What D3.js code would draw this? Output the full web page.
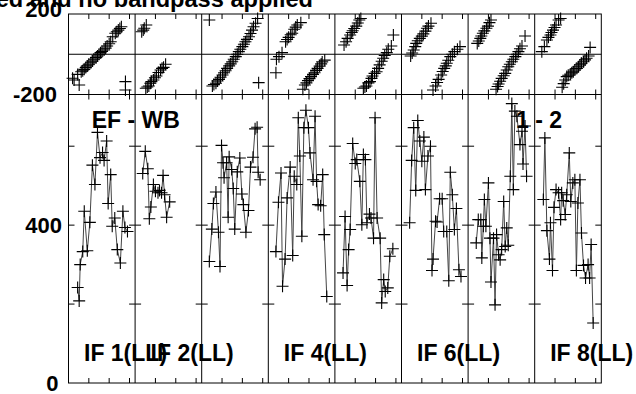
<!DOCTYPE html>
<html>
<head>
<meta charset="utf-8">
<script src="https://cdn.jsdelivr.net/npm/d3@7"></script>
<style>
  body { margin: 0; background: #fff; }
  svg { display: block; }
  text { font-family: "Liberation Sans", Arial, sans-serif; font-weight: bold; fill: #000; }
</style>
</head>
<body>
<svg class="chart" width="636" height="394"></svg>
<script>
/*
      Data
*/
const titleText = "Data calibrated and no bandpass applied";
const baselineText = ["EF - WB", "1 - 2"];
const ifLabels = ["IF 1(LL)", "IF 2(LL)", "", "IF 4(LL)", "", "IF 6(LL)", "", "IF 8(LL)"];
const ampTicks = [0, 200, 400, 600];
const ampLabels = [0, 400];
const phsLabels = [200, -200];
const chanTicks = [20, 40, 60];

// amplitude: channel / value per IF
const ampChan = [
  [9, 10.5, 11.5, 14, 15.5, 18.5, 21, 23.5, 26, 28.5, 31, 33.5, 35, 37.5, 39, 41.5, 43, 45.5, 48, 51, 53.5, 55.5, 58],
  [7.5, 10, 12.5, 14, 15.5, 18, 20, 22.5, 24, 26, 27.5, 29, 31, 34],
  [7.5, 10, 11.5, 14, 16.5, 18, 19.5, 21, 22, 24.5, 26, 27, 29.5, 31, 32.5, 35, 37.5, 39.5, 41, 43.5, 46, 48, 50.5, 52.5, 54.5, 55.5, 57.5],
  [7.5, 10, 12.5, 14, 16.5, 18.5, 21.5, 24, 25.5, 28, 29.5, 31, 33, 35, 37, 39.5, 41, 44, 46, 47.5, 49, 51.5, 53.5, 55, 57.5],
  [8, 10, 12, 13.5, 15, 17.5, 20, 21.5, 24.5, 26.5, 28, 30, 31.5, 34, 35.5, 38, 39.5, 41.5, 44.5, 46, 48, 49.5, 52, 54, 57],
  [8, 10, 12, 14, 16, 18, 20, 22, 23.5, 26, 28.5, 30, 31, 33.5, 35, 37.5, 40, 41.5, 44.5, 46.5, 48, 50, 52, 54, 56.5, 58.5],
  [8, 10, 12.5, 13.5, 15, 16, 17.5, 20, 21.5, 22.5, 25, 26.5, 28, 30, 31.5, 33, 35, 36.5, 38, 39.5, 41.5, 43, 44.5, 46, 48, 51, 53, 54, 56, 57.5],
  [8.5, 10, 12, 14.5, 15.5, 17.5, 19, 21, 23.5, 25.5, 26.5, 28, 30, 31.5, 34, 35.5, 37.5, 39.5, 41, 42.5, 44.5, 46, 48, 50, 52.5, 54, 55.5, 57.5]
];
const ampVal = [
  [242, 208, 300, 333, 435, 335, 407, 552, 503, 635, 571, 584, 564, 613, 455, 528, 397, 418, 338, 304, 435, 394, 384],
  [531, 587, 543, 416, 446, 503, 486, 482, 488, 482, 526, 477, 420, 459],
  [308, 390, 455, 484, 382, 295, 602, 558, 520, 558, 420, 573, 541, 493, 390, 535, 570, 479, 452, 382, 437, 547, 572, 644, 648, 534, 515],
  [333, 458, 532, 245, 314, 469, 547, 323, 524, 503, 672, 575, 372, 647, 691, 647, 583, 515, 676, 511, 452, 449, 528, 376, 219],
  [279, 422, 247, 338, 389, 607, 556, 566, 511, 401, 579, 566, 406, 428, 418, 367, 672, 418, 367, 203, 262, 232, 241, 321, 340],
  [406, 564, 647, 488, 665, 613, 562, 623, 490, 575, 600, 285, 314, 410, 408, 467, 467, 384, 384, 259, 534, 477, 389, 442, 287, 270],
  [355, 414, 414, 317, 397, 465, 397, 507, 367, 256, 367, 198, 376, 325, 312, 338, 460, 346, 393, 349, 524, 708, 490, 689, 676, 604, 638, 555, 651, 524],
  [465, 621, 386, 314, 406, 285, 445, 490, 482, 414, 482, 462, 427, 477, 583, 460, 507, 515, 285, 456, 515, 380, 298, 266, 300, 266, 351, 152]
];

// phase: channel / degrees per IF
const phsChan = [
  [4, 5.5, 9, 10.5, 12.5, 14, 15.5, 17, 18.5, 20, 22, 23.5, 25, 27, 28.5, 30, 31.5, 33, 35, 36.5, 38, 40, 41.5, 43.5, 46, 47.5, 49, 50.5, 52, 56, 56],
  [6.5, 8, 9, 11, 10.5, 12, 13.5, 15, 16, 18, 19.5, 21, 23, 25, 26.5, 28, 30],
  [7.5, 10.5, 12, 14, 15.5, 17, 18.5, 20.5, 22, 23.5, 25, 27, 28.5, 30, 31.5, 33.5, 35, 36.5, 38, 40, 41.5, 43, 44.5, 46.5, 48, 49.5, 51, 53, 55, 56],
  [7.5, 8, 10.5, 13.5, 17, 18.5, 20, 22, 23.5, 25.5, 27, 28.5, 32, 34, 36, 37.5, 39, 40.5, 42, 44, 45.5, 47, 48.5, 50.5, 52, 53, 55.5],
  [9, 11, 12.5, 15, 16.5, 17.5, 19, 21, 22.5, 24, 25.5, 28, 29.5, 31, 33, 34.5, 36, 37, 39, 41, 42.5, 44, 46, 47.5, 49, 51, 52.5, 55.5, 57.5],
  [9, 10.5, 12, 13.5, 14.5, 16, 18, 20, 21.5, 23.5, 25, 26.5, 29, 31, 33.5, 35, 36.5, 39, 40.5, 42, 43.5, 44.5, 46, 48, 50, 52, 55, 57.5],
  [9, 10.5, 12, 13, 14.5, 16, 18, 19.5, 21, 22.5, 27.5, 29, 30, 31.5, 33, 35, 36.5, 38, 39.5, 41, 43, 44.5, 46.5, 48, 49.5, 51, 53, 56],
  [7, 9.5, 12, 13.5, 15.5, 16.5, 18, 19.5, 21, 23.5, 25.5, 27, 28.5, 30, 31.5, 33, 35, 36.5, 38, 39.5, 41.5, 43, 44.5, 46, 48, 49.5, 51, 53, 54.5, 57]
];
const phsVal = [
  [-119, -128, -100, -153, -87, -82, -75, -66, -58, -50, -42, -34, -25, -17, -9, 0, 8, 14, 21, 30, 41, 52, 62, 87, 104, 112, 120, 128, 137, -136, -178],
  [112, 120, 129, 145, -169, -163, -158, -144, -136, -128, -117, -108, -91, -78, -70, -65, -50],
  [170, -158, -150, -144, -133, -125, -114, -103, -92, -82, -70, -58, -48, -37, -25, -12, 0, 13, 25, 38, 50, 62, 74, 87, 103, 120, 137, 154, 178, -141],
  [-92, -25, -12, 8, 62, 73, 84, 97, 104, 124, 135, 145, 157, -174, -153, -142, -131, -121, -111, -100, -92, -80, -70, -59, -48, -38, -29],
  [46, 62, 79, 96, 108, 117, 128, 140, 155, 170, 178, -169, -163, -158, -142, -136, -120, -108, -95, -87, -70, -53, -35, -20, -6, 8, 25, 41, 96],
  [-9, 6, 21, 38, 54, 67, 79, 90, 101, 115, 129, 140, 154, -178, -158, -140, -125, -103, -86, -70, -58, -45, -30, -12, 0, 13, 25, 38],
  [54, 66, 79, 91, 104, 116, 129, 140, 157, 170, -174, -160, -148, -134, -120, -107, -95, -78, -62, -50, -37, -25, -12, 0, 13, 27, 41, 91],
  [13, 38, 71, 84, 96, 108, 120, 133, 145, 170, 178, -164, -146, -128, -111, -104, -98, -92, -87, -78, -70, -62, -53, -45, -37, -28, -20, -9, 34]
];

/*
      Layout
*/
const svg = d3.select(".chart");
const left = 68.5, right = 601.3;
const phsTop = 14, mid = 94.5, ampBottom = 383;
const nIF = ampVal.length;
const panelW = (right - left) / nIF;

const panelX = d3.scaleLinear().domain([0, nIF]).range([left, right]);
const chanX = d3.scaleLinear().domain([0, 65.5]).range([0, panelW]);
const phsY = d3.scaleLinear().domain([-200, 200]).range([mid, phsTop]);
const ampY = d3.scaleLinear().domain([0, 731]).range([ampBottom, mid]);

const crossPath = "M-6,0H6M0,-6V6";

// title (its start is cut off by the page edge)
svg.append("text")
  .attr("x", 313)
  .attr("y", 7)
  .attr("text-anchor", "end")
  .attr("font-size", 23.6)
  .text(titleText);

/*
      Panels
*/
const frame = svg.append("g").attr("stroke", "#000").attr("stroke-width", 1).attr("fill", "none");

for (let i = 0; i < nIF; i++) {
  const x0 = panelX(i);
  const g = svg.append("g").attr("transform", `translate(${x0},0)`);

  // amplitude line + crosses
  const pts = ampVal[i].map((v, k) => [chanX(ampChan[i][k]), ampY(v)]);
  g.append("path")
    .attr("d", d3.line()(pts))
    .attr("fill", "none")
    .attr("stroke", "#444")
    .attr("stroke-width", 1);
  g.append("g")
    .selectAll("path")
    .data(pts)
    .join("path")
    .attr("transform", (d) => `translate(${d[0]},${d[1]})`)
    .attr("d", crossPath)
    .attr("stroke", "#000")
    .attr("stroke-width", 1.1);

  // phase crosses
  g.append("g")
    .selectAll("path")
    .data(phsVal[i].map((v, k) => [chanX(phsChan[i][k]), phsY(v)]))
    .join("path")
    .attr("transform", (d) => `translate(${d[0]},${d[1]})`)
    .attr("d", crossPath)
    .attr("stroke", "#000")
    .attr("stroke-width", 1.1);

  // channel ticks (inward on every horizontal edge)
  chanTicks.forEach((c) => {
    const tx = chanX(c);
    [[phsTop, 5], [mid, -5], [mid, 5], [ampBottom, -5]].forEach(([y, len]) => {
      g.append("line").attr("x1", tx).attr("x2", tx).attr("y1", y).attr("y2", y + len)
        .attr("stroke", "#000");
    });
  });

  // amplitude ticks on both sides of the panel
  ampTicks.slice(1).forEach((t) => {
    const ty = ampY(t);
    g.append("line").attr("x1", 0).attr("x2", 6).attr("y1", ty).attr("y2", ty).attr("stroke", "#000");
    g.append("line").attr("x1", panelW - 6).attr("x2", panelW).attr("y1", ty).attr("y2", ty).attr("stroke", "#000");
  });

  if (ifLabels[i]) {
    g.append("text")
      .attr("x", 15.5)
      .attr("y", 361)
      .attr("font-size", 23)
      .text(ifLabels[i]);
  }
}

// frame: outer box, panel dividers, zero phase line, panel split
frame.append("rect")
  .attr("x", left).attr("y", phsTop)
  .attr("width", right - left).attr("height", ampBottom - phsTop);
d3.range(1, nIF).forEach((i) => {
  frame.append("line").attr("x1", panelX(i)).attr("x2", panelX(i)).attr("y1", phsTop).attr("y2", ampBottom);
});
frame.append("line").attr("x1", left).attr("x2", right).attr("y1", mid).attr("y2", mid);
frame.append("line").attr("x1", left).attr("x2", right).attr("y1", phsY(0)).attr("y2", phsY(0));

/*
      Axis labels
*/
const labelX = { 200: 62, "-200": 57, 400: 62, 0: 58.5 };
svg.selectAll(".phs-label")
  .data(phsLabels)
  .join("text")
  .attr("class", "phs-label")
  .attr("x", (d) => labelX[d])
  .attr("y", (d) => (d > 0 ? 16.7 : 101.7))
  .attr("text-anchor", "end")
  .attr("font-size", 22)
  .text((d) => d);

svg.selectAll(".amp-label")
  .data(ampLabels)
  .join("text")
  .attr("class", "amp-label")
  .attr("x", (d) => labelX[d])
  .attr("y", (d) => ampY(d) + 8)
  .attr("text-anchor", "end")
  .attr("font-size", 22)
  .text((d) => d);

// baseline / antenna labels
svg.append("text").attr("x", 91.7).attr("y", 128.3).attr("font-size", 23).text(baselineText[0]);
svg.append("text").attr("x", 516).attr("y", 128.3).attr("font-size", 23).text(baselineText[1]);
</script>
</body>
</html>
